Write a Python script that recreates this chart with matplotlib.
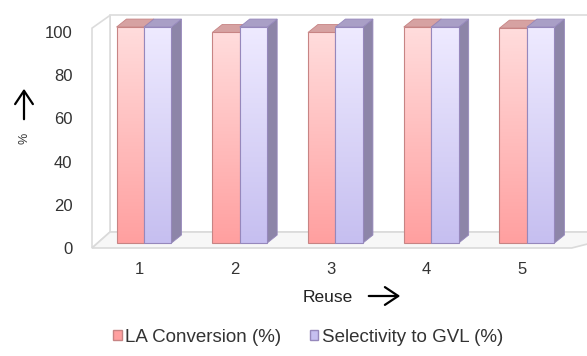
import numpy as np
import matplotlib
matplotlib.use('Agg')
import matplotlib.pyplot as plt
from matplotlib.patches import Polygon, Rectangle, Patch, FancyArrowPatch
from matplotlib.colors import LinearSegmentedColormap
from matplotlib.transforms import ScaledTranslation

plt.rcParams['font.family'] = ['Liberation Sans', 'DejaVu Sans']

# catalyst reuse data
reuse = [1, 2, 3, 4, 5]
la_conversion = [100, 97.5, 97.5, 100, 99.5]
gvl_selectivity = [100, 100, 100, 100, 100]
series_names = ['LA Conversion (%)', 'Selectivity to GVL (%)']
yticks = [0, 20, 40, 60, 80, 100]

W, H = 587, 356
fig = plt.figure(figsize=(W / 100, H / 100), dpi=100)
ax = fig.add_axes([92 / W, (H - 248) / H, (587 - 92) / W, (248 - 10) / H])
XLIM = (0.457, 5.627)
YLIM = (-2.3, 107.9)

BAR_W = 0.287
DEPTH_X, DEPTH_Y = 0.104, 3.7       # bar depth in data units
WALL_X, WALL_Y = 0.188, 7.4         # wall depth in data units

styles = [
    dict(bottom='#ffa0a0', top='#ffdcdc', edge='#c78484', cap='#d6a2a2', side='#bf8585'),
    dict(bottom='#c6bff0', top='#eeeaff', edge='#9688bc', cap='#a99fc6', side='#8d85a8'),
]

# walls and floor
x0, x1 = XLIM
y0 = YLIM[0]
wall_top = 99.5
wall_kw = dict(closed=True, clip_on=False, zorder=0, lw=1.2)
ax.add_patch(Polygon([(x0 + WALL_X, y0 + WALL_Y), (x1 + 0.5, y0 + WALL_Y),
                      (x1 + 0.5, wall_top + WALL_Y - 1.5), (x0 + WALL_X, wall_top + WALL_Y - 1.5)],
                     facecolor='white', edgecolor='#dcdcdc', **wall_kw))
ax.add_patch(Polygon([(x0, y0), (x0 + WALL_X, y0 + WALL_Y),
                      (x0 + WALL_X, wall_top + WALL_Y - 1.5), (x0, wall_top)],
                     facecolor='white', edgecolor='#dcdcdc', **wall_kw))
ax.add_patch(Polygon([(x0, y0), (x1 - 0.16, y0), (x1 + 0.5, y0 + WALL_Y), (x0 + WALL_X, y0 + WALL_Y)],
                     facecolor='#f7f7f7', edgecolor='#dadada', **wall_kw))


def draw_bar3d(x, h, style, z):
    cmap = LinearSegmentedColormap.from_list('g', [style['bottom'], style['top']])
    front = Rectangle((x, 0), BAR_W, h, facecolor=style['bottom'], edgecolor='none', zorder=z)
    ax.add_patch(front)
    grad = np.linspace(0, 1, 64).reshape(-1, 1)
    im = ax.imshow(grad, extent=(x, x + BAR_W, 0, h), origin='lower', cmap=cmap,
                   aspect='auto', zorder=z + 0.1, interpolation='bilinear')
    im.set_clip_path(front)
    ax.add_patch(Rectangle((x, 0), BAR_W, h, fill=False, edgecolor=style['edge'],
                           lw=0.8, zorder=z + 0.2))
    ax.add_patch(Polygon([(x + BAR_W, 0), (x + BAR_W + DEPTH_X, DEPTH_Y),
                          (x + BAR_W + DEPTH_X, h + DEPTH_Y), (x + BAR_W, h)],
                         facecolor=style['side'], edgecolor=style['edge'], lw=0.6, zorder=z))
    ax.add_patch(Polygon([(x, h), (x + BAR_W, h), (x + BAR_W + DEPTH_X, h + DEPTH_Y),
                          (x + DEPTH_X, h + DEPTH_Y)],
                         facecolor=style['cap'], edgecolor=style['edge'], lw=0.6, zorder=z))


for i, r in enumerate(reuse):
    draw_bar3d(r - BAR_W, la_conversion[i], styles[0], 3)
    draw_bar3d(r, gvl_selectivity[i], styles[1], 4)

ax.set_xlim(*XLIM)
ax.set_ylim(*YLIM)
for s in ax.spines.values():
    s.set_visible(False)
ax.set_xticks(reuse)
ax.set_xticklabels([str(r) for r in reuse])
ax.set_yticks(yticks)
ax.tick_params(length=0, labelsize=12, labelcolor='#333333')
ax.tick_params(axis='y', pad=14)
ax.tick_params(axis='x', pad=10)
for lab in ax.get_xticklabels():
    lab.set_transform(lab.get_transform() + ScaledTranslation(-5 / 100, 0, fig.dpi_scale_trans))
for lab in ax.get_yticklabels():
    lab.set_transform(lab.get_transform() + ScaledTranslation(0, -5 / 100, fig.dpi_scale_trans))

# axis titles with arrows
fig.text(25 / W, 1 - 138 / H, '%', rotation=90, ha='center', va='center', fontsize=9, color='#333333')
fig.text(328 / W, 1 - 297 / H, 'Reuse', ha='center', va='center', fontsize=12.5, color='#222222')
arrow_kw = dict(transform=fig.transFigure, arrowstyle='->,head_length=6,head_width=4',
                lw=1.6, color='black', mutation_scale=1.6)
fig.add_artist(FancyArrowPatch((24 / W, 1 - 122 / H), (24 / W, 1 - 86 / H), **arrow_kw))
fig.add_artist(FancyArrowPatch((366 / W, 1 - 296 / H), (403 / W, 1 - 296 / H), **arrow_kw))

handles = [Patch(facecolor=styles[k]['bottom'], edgecolor=styles[k]['edge'], lw=1) for k in range(2)]
fig.legend(handles, series_names, loc='center', bbox_to_anchor=(308 / W, 1 - 337 / H),
           ncol=2, frameon=False, fontsize=13.5, handlelength=0.45, handleheight=0.45,
           handletextpad=0.2, columnspacing=1.5, labelcolor='#333333')

fig.savefig('out.png', dpi=100)
